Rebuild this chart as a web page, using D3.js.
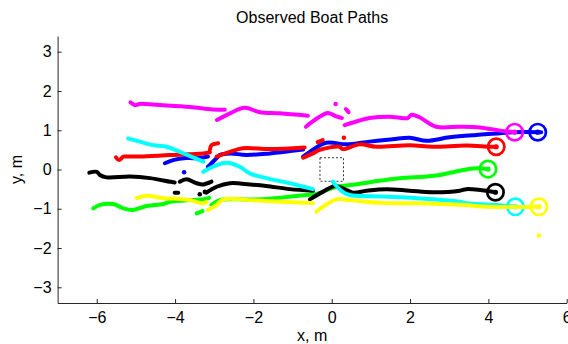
<!DOCTYPE html>
<html>
<head>
<meta charset="utf-8">
<script src="https://cdn.jsdelivr.net/npm/d3@7"></script>
<style>
  html, body { margin: 0; padding: 0; background: #fff; }
  svg { display: block; font-family: "Liberation Sans", Arial, Helvetica, sans-serif; }
</style>
</head>
<body>
<div id="chart"></div>
<script>
// axis ticks
const xTicks = [-6, -4, -2, 0, 2, 4, 6];
const yTicks = [-3, -2, -1, 0, 1, 2, 3];

// observed paths, one list of segments per boat (x, y in metres)
const magentaPaths = [
  [[-5.14, 1.71], [-5.03, 1.64], [-4.90, 1.67], [-4.39, 1.64], [-3.62, 1.59], [-3.04, 1.53], [-2.73, 1.52]],
  [[-2.93, 1.26], [-2.60, 1.43], [-2.22, 1.57], [-1.84, 1.46], [-1.33, 1.43], [-0.61, 1.37]],
  [[-0.66, 1.09], [-0.36, 1.31], [-0.10, 1.44], [0.10, 1.36], [0.26, 1.31]],
  [[0.36, 1.54], [0.43, 1.46]],
  [[0.33, 1.13], [0.59, 1.21], [0.97, 1.31], [1.56, 1.34], [1.94, 1.31], [2.03, 1.39], [2.24, 1.33],
   [2.67, 1.09], [3.27, 1.09], [3.78, 1.07], [4.29, 0.99], [4.67, 0.95]]
];
const bluePaths = [
  [[-4.26, 0.16], [-4.05, 0.24], [-3.71, 0.29], [-3.37, 0.29], [-3.16, 0.33]],
  [[-3.16, 0.07], [-3.07, 0.16], [-2.94, 0.29], [-2.86, 0.37], [-2.60, 0.41], [-2.18, 0.37], [-1.58, 0.41], [-0.73, 0.51]],
  [[-0.73, 0.33], [-0.56, 0.45], [-0.14, 0.68], [0.38, 0.64], [0.97, 0.71], [1.56, 0.77], [1.99, 0.81],
   [2.42, 0.73], [3.01, 0.82], [3.69, 0.88], [4.29, 0.92], [4.62, 0.95], [5.35, 0.95]]
];
const redPaths = [
  [[-5.51, 0.31], [-5.43, 0.24], [-5.32, 0.33], [-5.24, 0.33], [-4.90, 0.33], [-4.13, 0.37], [-3.28, 0.41], [-3.11, 0.44]],
  [[-3.11, 0.50], [-3.07, 0.62], [-2.90, 0.67]],
  [[-2.94, 0.33], [-2.60, 0.45], [-2.27, 0.54], [-1.58, 0.52], [-0.69, 0.56]],
  [[-0.36, 0.70], [-0.23, 0.75]],
  [[-0.73, 0.30], [-0.48, 0.41], [-0.31, 0.50], [0.20, 0.58], [0.28, 0.52], [0.71, 0.64], [1.14, 0.58],
   [1.99, 0.62], [2.58, 0.58], [3.44, 0.61], [4.03, 0.58], [4.20, 0.58]]
];
const cyanPaths = [
  [[-5.20, 0.79], [-4.90, 0.71], [-4.56, 0.62], [-4.22, 0.58], [-3.88, 0.45], [-3.28, 0.20]],
  [[-3.28, -0.06], [-2.94, 0.11], [-2.69, 0.17], [-2.35, 0.07], [-2.09, -0.10], [-1.67, -0.22], [-1.07, -0.35], [-0.48, -0.50]],
  [[0.03, -0.31], [0.12, -0.42], [0.28, -0.57], [0.46, -0.65], [1.30, -0.69], [2.16, -0.73], [3.27, -0.82],
   [3.44, -0.86], [4.11, -0.90], [4.69, -0.95]]
];
const blackPaths = [
  [[-6.19, -0.08], [-6.00, -0.06], [-5.92, -0.14], [-5.75, -0.20], [-5.15, -0.18], [-4.64, -0.22], [-4.13, -0.31], [-4.01, -0.33]],
  [[-3.88, -0.31], [-3.71, -0.25], [-3.45, -0.35], [-3.28, -0.38], [-3.07, -0.31]],
  [[-4.01, -0.59], [-3.92, -0.59]],
  [[-3.20, -0.59], [-2.94, -0.44], [-2.60, -0.35], [-2.09, -0.38], [-1.67, -0.42], [-1.07, -0.50], [-0.48, -0.54]],
  [[-0.56, -0.76], [-0.23, -0.57], [0.08, -0.42], [0.28, -0.48], [0.54, -0.59], [0.89, -0.54], [1.40, -0.50],
   [1.99, -0.54], [2.58, -0.58], [3.27, -0.54], [3.44, -0.50], [4.18, -0.58]]
];
const greenPaths = [
  [[-6.09, -0.99], [-5.92, -0.90], [-5.58, -0.88], [-5.32, -0.99], [-5.07, -1.03], [-4.73, -0.93], [-4.30, -0.88],
   [-4.13, -0.82], [-3.62, -0.78], [-3.20, -0.76]],
  [[-3.45, -1.12], [-3.30, -1.06]],
  [[-3.24, -0.76], [-3.13, -0.72]],
  [[-3.07, -0.90], [-2.86, -0.78], [-2.43, -0.76], [-1.84, -0.76], [-1.24, -0.71], [-0.65, -0.65], [-0.39, -0.62],
   [0.12, -0.44], [0.54, -0.39], [1.05, -0.31], [1.73, -0.22], [2.42, -0.18], [2.76, -0.14], [3.27, -0.03],
   [3.69, 0.03], [3.99, 0.01]]
];
const yellowPaths = [
  [[-4.98, -0.73], [-4.73, -0.67], [-4.30, -0.73], [-3.88, -0.75], [-3.62, -0.78], [-3.28, -0.86], [-3.20, -0.82]],
  [[-3.16, -1.03], [-2.94, -0.90], [-2.77, -0.76], [-2.09, -0.78], [-1.24, -0.82], [-0.56, -0.85], [-0.48, -0.86]],
  [[-0.39, -1.07], [0.12, -0.76], [0.46, -0.78], [1.30, -0.85], [2.16, -0.86], [3.27, -0.90], [4.03, -0.95], [5.31, -0.95]]
];

// final positions (circled) and stray single samples
const boatNames = ["blue", "magenta", "red", "green", "black", "cyan", "yellow"];
const endPoints = [[5.26, 0.95], [4.67, 0.95], [4.20, 0.58], [3.99, 0.01], [4.18, -0.58], [4.69, -0.95], [5.29, -0.95]];
const strayPoints = [
  { boat: "magenta", p: [0.10, 1.67] },
  { boat: "blue", p: [-3.77, -0.07] },
  { boat: "red", p: [0.31, 0.81] },
  { boat: "black", p: [-3.37, -0.63] },
  { boat: "black", p: [-3.24, -0.57] },
  { boat: "yellow", p: [5.29, -1.68] }
];

// start zone box
const zoneX = [-0.3, 0.3];
const zoneY = [-0.3, 0.3];

const pathsByBoat = {
  magenta: magentaPaths, blue: bluePaths, red: redPaths, cyan: cyanPaths,
  black: blackPaths, green: greenPaths, yellow: yellowPaths
};

function colorForBoat(name) {
  const colorMap = {
    magenta: "#ff00ff",
    blue: "#0000ff",
    red: "#ff0000",
    cyan: "#00ffff",
    black: "#000000",
    green: "#00ff00",
    yellow: "#ffff00",
  };
  return colorMap[name];
}

const width = 568;
const height = 344;
const margin = { top: 36, right: 1.3, bottom: 41, left: 57.6 };

const x = d3.scaleLinear().domain([-7, 6]).range([margin.left, width - margin.right]);
const y = d3.scaleLinear().domain([-3.4, 3.4]).range([height - margin.bottom, margin.top]);

const svg = d3.select("#chart")
  .append("svg")
  .attr("width", width)
  .attr("height", height)
  .attr("viewBox", [0, 0, width, height].join(" "));

const axisColor = "#262626";

// x axis (ticks pointing inward, no box)
const gx = svg.append("g")
  .attr("transform", `translate(0,${y(-3.4)})`)
  .call(d3.axisBottom(x).tickValues(xTicks).tickSizeInner(-4).tickSizeOuter(0).tickPadding(9).tickFormat(d3.format("d")));

const gy = svg.append("g")
  .attr("transform", `translate(${x(-7)},0)`)
  .call(d3.axisLeft(y).tickValues(yTicks).tickSizeInner(-4).tickSizeOuter(0).tickPadding(6).tickFormat(d3.format("d")));

[gx, gy].forEach((g) => {
  g.select(".domain").attr("stroke", axisColor).attr("stroke-width", 1);
  g.selectAll(".tick line").attr("stroke", axisColor);
  g.selectAll(".tick text").attr("fill", "#000").style("font-size", "16px");
});

// dashed start zone
svg.append("rect")
  .attr("x", x(zoneX[0]))
  .attr("y", y(zoneY[1]))
  .attr("width", x(zoneX[1]) - x(zoneX[0]))
  .attr("height", y(zoneY[0]) - y(zoneY[1]))
  .attr("fill", "none")
  .attr("stroke", "#333")
  .attr("stroke-width", 1)
  .attr("stroke-dasharray", "2,2");

const line = d3.line()
  .x((d) => x(d[0]))
  .y((d) => y(d[1]))
  .curve(d3.curveCatmullRom);

const plot = svg.append("g");

boatNames.forEach((name, i) => {
  const g = plot.append("g");

  g.selectAll("path")
    .data(pathsByBoat[name])
    .join("path")
    .attr("d", line)
    .attr("fill", "none")
    .attr("stroke", colorForBoat(name))
    .attr("stroke-width", 4)
    .attr("stroke-linecap", "round")
    .attr("stroke-linejoin", "round");

  g.selectAll("circle.stray")
    .data(strayPoints.filter((s) => s.boat === name))
    .join("circle")
    .attr("class", "stray")
    .attr("cx", (d) => x(d.p[0]))
    .attr("cy", (d) => y(d.p[1]))
    .attr("r", 2.3)
    .attr("fill", colorForBoat(name));

  const end = endPoints[i];
  g.append("circle")
    .attr("cx", x(end[0]))
    .attr("cy", y(end[1]))
    .attr("r", 2.6)
    .attr("fill", colorForBoat(name));
  g.append("circle")
    .attr("cx", x(end[0]))
    .attr("cy", y(end[1]))
    .attr("r", 8.2)
    .attr("fill", "none")
    .attr("stroke", colorForBoat(name))
    .attr("stroke-width", 2.7);
});

// labels
svg.append("text")
  .attr("x", (x(-7) + x(6)) / 2)
  .attr("y", 23)
  .attr("text-anchor", "middle")
  .style("font-size", "16px")
  .text("Observed Boat Paths");

svg.append("text")
  .attr("x", (x(-7) + x(6)) / 2)
  .attr("y", 341)
  .attr("text-anchor", "middle")
  .style("font-size", "16px")
  .text("x, m");

svg.append("text")
  .attr("transform", `translate(22,${(y(-3.4) + y(3.4)) / 2}) rotate(-90)`)
  .attr("text-anchor", "middle")
  .style("font-size", "16px")
  .text("y, m");
</script>
</body>
</html>
